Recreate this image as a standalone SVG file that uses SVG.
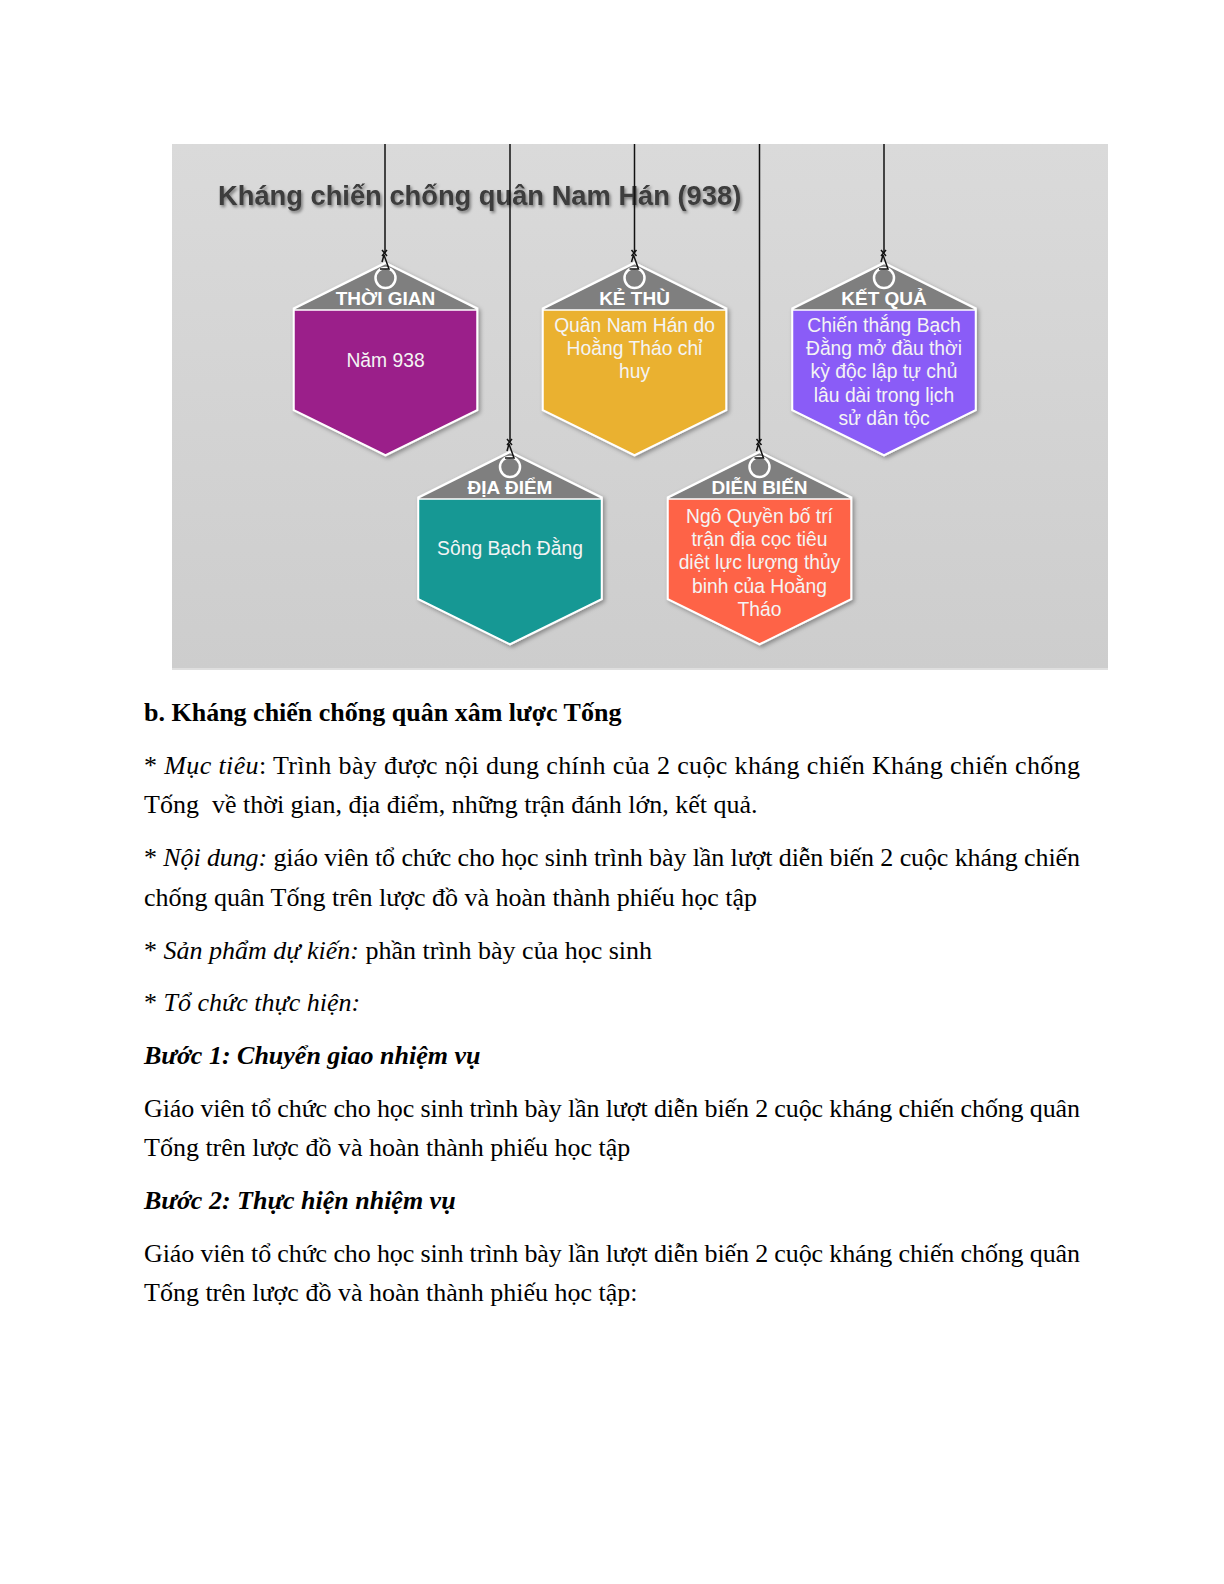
<svg xmlns="http://www.w3.org/2000/svg" xmlns:xlink="http://www.w3.org/1999/xlink" width="1224" height="1584" viewBox="0 0 1224 1584">
<style>
.sans{font-family:"Liberation Sans",Arial,sans-serif}
.title{font-family:"Liberation Sans",Arial,sans-serif;font-weight:bold;font-size:27.3px;fill:#3c3c3c}
.band{fill:#7f7f7f;stroke:#ffffff;stroke-width:2.5;stroke-linejoin:miter}
.body{stroke:#ffffff;stroke-width:1.5}
.hole{fill:#7f7f7f;stroke:#ffffff;stroke-width:2.5}
.lbl{font-family:"Liberation Sans",Arial,sans-serif;font-weight:bold;font-size:19px;fill:#ffffff;text-anchor:middle}
.val{font-family:"Liberation Sans",Arial,sans-serif;font-size:19.3px;fill:#f4f4f4;text-anchor:middle}
.str{fill:none;stroke:#111111;stroke-width:1.5}
.doc{font-family:"Liberation Serif","Times New Roman",serif;font-size:26px;fill:#000000}
.b{font-weight:bold}
.i{font-style:italic}
</style>
<defs>
<linearGradient id="bg" x1="0" y1="0" x2="0" y2="1">
<stop offset="0" stop-color="#dadada"/>
<stop offset="1" stop-color="#cdcdcd"/>
</linearGradient>
<filter id="sh" x="-20%" y="-20%" width="140%" height="140%">
<feDropShadow dx="2" dy="2" stdDeviation="2" flood-color="#000" flood-opacity="0.35"/>
</filter>
<filter id="tsh" x="-5%" y="-30%" width="110%" height="160%">
<feDropShadow dx="1.5" dy="2" stdDeviation="1.5" flood-color="#000" flood-opacity="0.45"/>
</filter>
<polygon id="hex" points="0,0 91.5,45.5 91.5,147 0,192 -91.5,147 -91.5,45.5"/>
<polygon id="hexBody" points="-91.5,47 91.5,47 91.5,147 0,192 -91.5,147"/>
</defs>

<rect x="0" y="0" width="1224" height="1584" fill="#ffffff"/>
<rect x="172" y="144" width="936" height="526" fill="url(#bg)"/>
<line x1="172" y1="669" x2="1108" y2="669" stroke="#e4e4e4" stroke-width="1.5"/>

<text class="title" x="218" y="205" filter="url(#tsh)">Kháng chiến chống quân Nam Hán (938)</text>

<g id="node-thoi-gian" transform="translate(385.5,263)">
<use href="#hex" class="band" filter="url(#sh)"/>
<use href="#hexBody" class="body" fill="#9b1f8a"/>
<circle class="hole" cx="0" cy="15" r="10"/>
<text class="lbl" x="0" y="42">THỜI GIAN</text>
<text class="val" x="0" y="103.5">Năm 938</text>
</g>

<g id="node-ke-thu" transform="translate(634.5,263)">
<use href="#hex" class="band" filter="url(#sh)"/>
<use href="#hexBody" class="body" fill="#eab130"/>
<circle class="hole" cx="0" cy="15" r="10"/>
<text class="lbl" x="0" y="42">KẺ THÙ</text>
<text class="val" x="0" y="68.7">Quân Nam Hán do</text>
<text class="val" x="0" y="92">Hoằng Tháo chỉ</text>
<text class="val" x="0" y="115.3">huy</text>
</g>

<g id="node-ket-qua" transform="translate(884,263)">
<use href="#hex" class="band" filter="url(#sh)"/>
<use href="#hexBody" class="body" fill="#8a5cf7"/>
<circle class="hole" cx="0" cy="15" r="10"/>
<text class="lbl" x="0" y="42">KẾT QUẢ</text>
<text class="val" x="0" y="68.7">Chiến thắng Bạch</text>
<text class="val" x="0" y="92">Đằng mở đầu thời</text>
<text class="val" x="0" y="115.3">kỳ độc lập tự chủ</text>
<text class="val" x="0" y="138.6">lâu dài trong lịch</text>
<text class="val" x="0" y="162">sử dân tộc</text>
</g>

<g id="node-dia-diem" transform="translate(510,452)">
<use href="#hex" class="band" filter="url(#sh)"/>
<use href="#hexBody" class="body" fill="#169894"/>
<circle class="hole" cx="0" cy="15" r="10"/>
<text class="lbl" x="0" y="42">ĐỊA ĐIỂM</text>
<text class="val" x="0" y="103">Sông Bạch Đằng</text>
</g>

<g id="node-dien-bien" transform="translate(759.5,452)">
<use href="#hex" class="band" filter="url(#sh)"/>
<use href="#hexBody" class="body" fill="#fe6347"/>
<circle class="hole" cx="0" cy="15" r="10"/>
<text class="lbl" x="0" y="42">DIỄN BIẾN</text>
<text class="val" x="0" y="70.7">Ngô Quyền bố trí</text>
<text class="val" x="0" y="94">trận địa cọc tiêu</text>
<text class="val" x="0" y="117.3">diệt lực lượng thủy</text>
<text class="val" x="0" y="140.6">binh của Hoằng</text>
<text class="val" x="0" y="164">Tháo</text>
</g>

<g id="connectors">
<g transform="translate(385,263)">
<path class="str" d="M0,-119 V-10"/>
<path class="str" d="M-3,-13 L2,-7 M-3,-7 L2,-13"/>
<path class="str" d="M-1,-8 L4,6 L-5,6 M-1,-8 L-3,-1"/>
</g>
<g transform="translate(634.5,263)">
<path class="str" d="M0,-119 V-10"/>
<path class="str" d="M-3,-13 L2,-7 M-3,-7 L2,-13"/>
<path class="str" d="M-1,-8 L4,6 L-5,6 M-1,-8 L-3,-1"/>
</g>
<g transform="translate(884,263)">
<path class="str" d="M0,-119 V-10"/>
<path class="str" d="M-3,-13 L2,-7 M-3,-7 L2,-13"/>
<path class="str" d="M-1,-8 L4,6 L-5,6 M-1,-8 L-3,-1"/>
</g>
<g transform="translate(510,452)">
<path class="str" d="M0,-308 V-10"/>
<path class="str" d="M-3,-13 L2,-7 M-3,-7 L2,-13"/>
<path class="str" d="M-1,-8 L4,6 L-5,6 M-1,-8 L-3,-1"/>
</g>
<g transform="translate(759.5,452)">
<path class="str" d="M0,-308 V-10"/>
<path class="str" d="M-3,-13 L2,-7 M-3,-7 L2,-13"/>
<path class="str" d="M-1,-8 L4,6 L-5,6 M-1,-8 L-3,-1"/>
</g>
</g>

<g id="document-text" class="doc">
<text x="144" y="721" class="b">b. Kháng chiến chống quân xâm lược Tống</text>
<text x="144" y="773.5" textLength="936" lengthAdjust="spacing">* <tspan class="i">Mục tiêu</tspan>: Trình bày được nội dung chính của 2 cuộc kháng chiến Kháng chiến chống</text>
<text x="144" y="813" xml:space="preserve">Tống  về thời gian, địa điểm, những trận đánh lớn, kết quả.</text>
<text x="144" y="866" textLength="936" lengthAdjust="spacing">* <tspan class="i">Nội dung:</tspan> giáo viên tổ chức cho học sinh trình bày lần lượt diễn biến 2 cuộc kháng chiến</text>
<text x="144" y="905.5">chống quân Tống trên lược đồ và hoàn thành phiếu học tập</text>
<text x="144" y="958.5">* <tspan class="i">Sản phẩm dự kiến:</tspan> phần trình bày của học sinh</text>
<text x="144" y="1011">* <tspan class="i">Tổ chức thực hiện:</tspan></text>
<text x="144" y="1064" class="b i">Bước 1: Chuyển giao nhiệm vụ</text>
<text x="144" y="1116.5" textLength="936" lengthAdjust="spacing">Giáo viên tổ chức cho học sinh trình bày lần lượt diễn biến 2 cuộc kháng chiến chống quân</text>
<text x="144" y="1156">Tống trên lược đồ và hoàn thành phiếu học tập</text>
<text x="144" y="1209" class="b i">Bước 2: Thực hiện nhiệm vụ</text>
<text x="144" y="1261.5" textLength="936" lengthAdjust="spacing">Giáo viên tổ chức cho học sinh trình bày lần lượt diễn biến 2 cuộc kháng chiến chống quân</text>
<text x="144" y="1301">Tống trên lược đồ và hoàn thành phiếu học tập:</text>
</g>
</svg>
